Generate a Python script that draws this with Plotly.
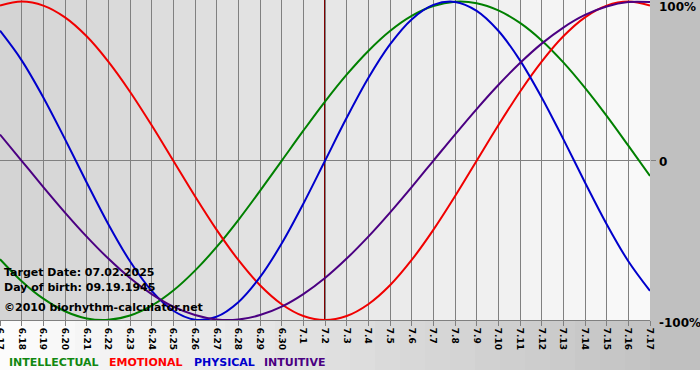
import plotly.graph_objects as go

# ---- data ----
dates = ['6.17', '6.18', '6.19', '6.20', '6.21', '6.22', '6.23', '6.24', '6.25', '6.26',
         '6.27', '6.28', '6.29', '6.30', '7.1', '7.2', '7.3', '7.4', '7.5', '7.6', '7.7',
         '7.8', '7.9', '7.10', '7.11', '7.12', '7.13', '7.14', '7.15', '7.16', '7.17']

intellectual = [-0.618, -0.756, -0.866, -0.945, -0.990, -0.999, -0.972, -0.910, -0.815, -0.690,
                -0.541, -0.372, -0.189, 0.0, 0.189, 0.372, 0.541, 0.690, 0.815, 0.910, 0.972,
                0.999, 0.990, 0.945, 0.866, 0.756, 0.618, 0.458, 0.282, 0.095, -0.095]

emotional = [0.975, 1.0, 0.975, 0.901, 0.782, 0.623, 0.434, 0.223, 0.0, -0.223,
             -0.434, -0.623, -0.782, -0.901, -0.975, -1.0, -0.975, -0.901, -0.782, -0.623, -0.434,
             -0.223, 0.0, 0.223, 0.434, 0.623, 0.782, 0.901, 0.975, 1.0, 0.975]

physical = [0.817, 0.631, 0.398, 0.136, -0.136, -0.398, -0.631, -0.817, -0.942, -0.998,
            -0.979, -0.888, -0.731, -0.520, -0.270, 0.0, 0.270, 0.520, 0.731, 0.888, 0.979,
            0.998, 0.942, 0.817, 0.631, 0.398, 0.136, -0.136, -0.398, -0.631, -0.817]

intuitive = [0.165, 0.0, -0.165, -0.325, -0.476, -0.614, -0.736, -0.837, -0.916, -0.969,
             -0.997, -0.997, -0.969, -0.916, -0.837, -0.736, -0.614, -0.476, -0.325, -0.165, 0.0,
             0.165, 0.325, 0.476, 0.614, 0.736, 0.837, 0.916, 0.969, 0.997, 0.997]

target_label = '7.2'
y_tick_labels = ['100%', '0', '-100%']
info_lines = ['Target Date: 07.02.2025', 'Day of birth: 09.19.1945', '©2010 biorhythm-calculator.net']
legend_names = ['INTELLECTUAL', 'EMOTIONAL', 'PHYSICAL', 'INTUITIVE']

# ---- figure ----
W, H = 700, 380
PW, PH = 650, 320  # plot area size in px
x = list(range(len(dates)))
colors = ['#008000', '#f00000', '#0000cc', '#4b0082']
legend_colors = ['#118811', '#ff0000', '#0000cc', '#4b0082']

fig = go.Figure()
for name, vals, c in zip(legend_names, [intellectual, emotional, physical, intuitive], colors):
    fig.add_trace(go.Scatter(x=x, y=vals, mode='lines', name=name,
                             line=dict(color=c, width=2, shape='spline', smoothing=1.0),
                             showlegend=False, hoverinfo='skip'))

shapes = []
# plot area column shading (dark left -> light right)
n = len(dates) - 1
for i in range(n):
    v = int(round(212 + (249 - 212) * i / (n - 1)))
    shapes.append(dict(type='rect', xref='x', yref='paper', x0=i, x1=i + 1, y0=0, y1=1,
                       fillcolor=f'rgb({v},{v},{v})', line=dict(width=0), layer='below'))
# bottom strip gradient (white left -> gray right)
seg = 26
for i in range(seg):
    v = int(round(252 - (252 - 196) * i / (seg - 1)))
    shapes.append(dict(type='rect', xref='paper', yref='paper',
                       x0=i / seg, x1=(i + 1) / seg + 0.002, y0=-50 / PH, y1=0,
                       fillcolor=f'rgb({v},{v},{v})', line=dict(width=0), layer='below'))
# right panel
shapes.append(dict(type='rect', xref='paper', yref='paper', x0=1, x1=W / PW, y0=-50 / PH, y1=1,
                   fillcolor='#c0c0c0', line=dict(width=0), layer='below'))
# target date marker
ti = dates.index(target_label)
shapes.append(dict(type='line', xref='x', yref='paper', x0=ti, x1=ti, y0=0, y1=1,
                   line=dict(color='#800000', width=2), layer='between'))

annotations = []
info_y = [272, 287, 307]
for t, py in zip(info_lines, info_y):
    annotations.append(dict(text=t, xref='paper', yref='paper', x=2 / PW, y=(PH - py) / PH,
                            xanchor='left', yanchor='middle', showarrow=False,
                            font=dict(family='DejaVu Sans', size=11, color='#000000', weight='bold')))
ylab_y = [7, 162, 322.5]
for t, py in zip(y_tick_labels, ylab_y):
    annotations.append(dict(text=t, xref='paper', yref='paper', x=657 / PW, y=(PH - py) / PH,
                            xanchor='left', yanchor='middle', showarrow=False,
                            font=dict(family='DejaVu Sans', size=12, color='#000000', weight='bold')))
leg_x = [7, 107, 192, 262]
for t, px, c in zip(legend_names, leg_x, legend_colors):
    annotations.append(dict(text=t, xref='paper', yref='paper', x=px / PW, y=(PH - 362) / PH,
                            xanchor='left', yanchor='middle', showarrow=False,
                            font=dict(family='DejaVu Sans', size=11, color=c, weight='bold')))

fig.update_layout(
    width=W, height=H,
    margin=dict(l=0, r=W - PW, t=0, b=H - PH, pad=0, autoexpand=False),
    paper_bgcolor='#ffffff', plot_bgcolor='rgba(0,0,0,0)',
    shapes=shapes, annotations=annotations, showlegend=False,
    xaxis=dict(range=[0, n], tickmode='array', tickvals=x, ticktext=dates, tickangle=90,
               showgrid=True, gridcolor='#808080', gridwidth=1, zeroline=False,
               showline=True, linecolor='#808080', linewidth=1,
               ticks='outside', ticklen=5, tickcolor='#808080', tickwidth=1,
               ticklabeloverflow='allow', automargin=False,
               tickfont=dict(family='DejaVu Sans', size=9, color='#000000', weight='bold'),
               fixedrange=True),
    yaxis=dict(range=[-1, 1.01], side='right', tickmode='array', tickvals=[0],
               showticklabels=False, showgrid=True, gridcolor='#808080', gridwidth=1,
               zeroline=False, ticks='outside', ticklen=5, tickcolor='#808080',
               automargin=False, fixedrange=True),
)

fig.write_html('out.html', config={'displayModeBar': False, 'staticPlot': True},
               post_script="document.body.style.margin='0';document.body.style.padding='0';"
                           "document.body.style.overflow='hidden';")
